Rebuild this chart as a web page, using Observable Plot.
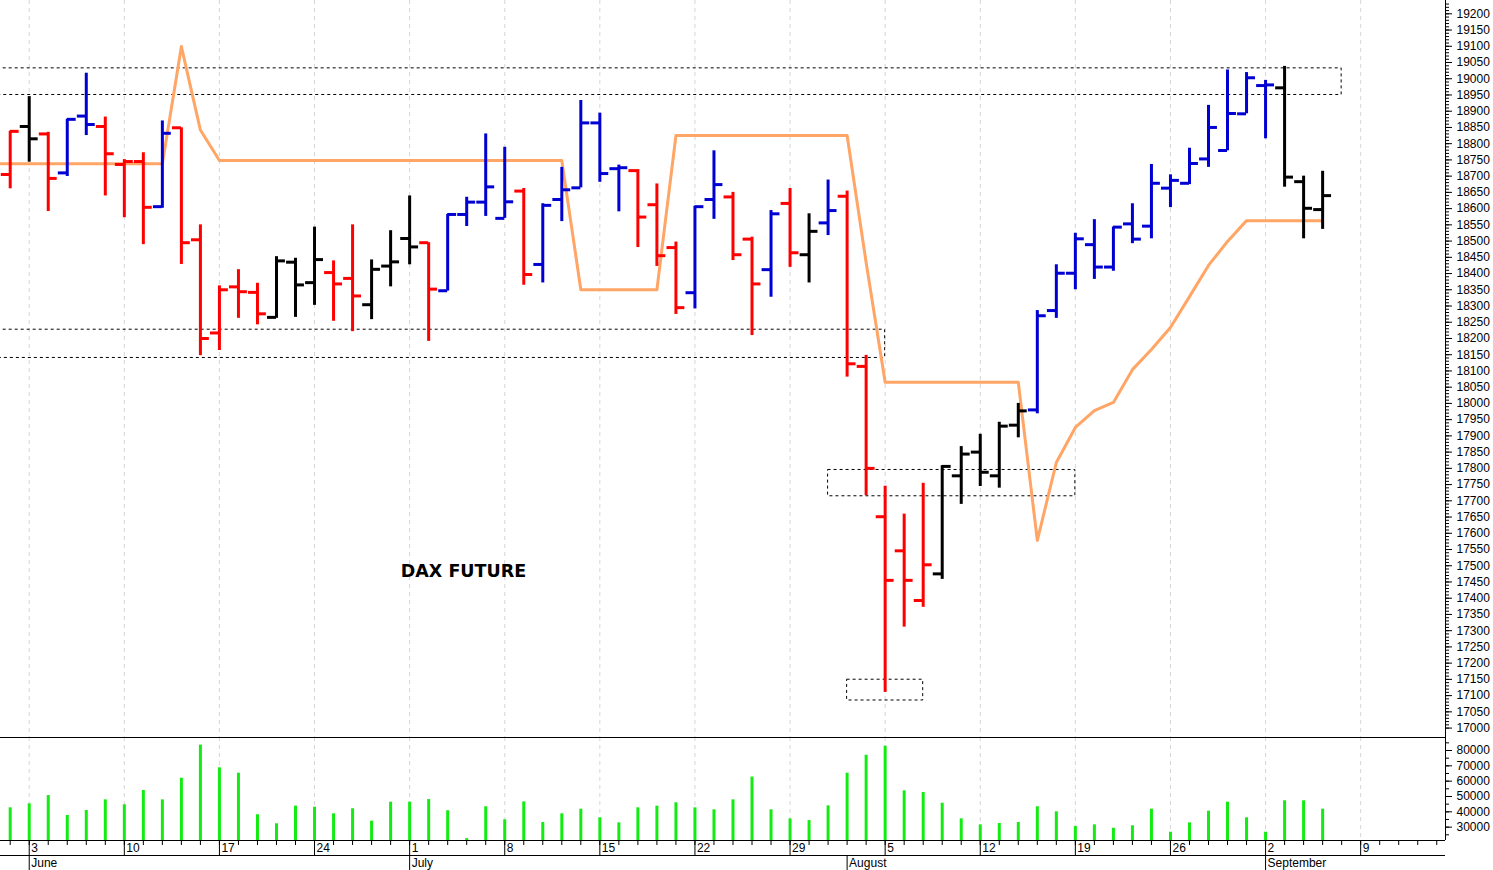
<!DOCTYPE html>
<html><head><meta charset="utf-8">
<script src="https://cdn.jsdelivr.net/npm/d3@7"></script>
<script src="https://cdn.jsdelivr.net/npm/@observablehq/plot@0.6"></script>
<style>
html,body{margin:0;padding:0;background:#fff;}
#chart{width:1493px;height:870px;position:relative;overflow:hidden;background:#fff;}
#chart svg{display:block;}
</style></head><body><div id="chart"></div>
<script>
// ---- DATA (trading-day index 0 = Fri 31 May 2024) ----
const opens  = [18705,18853,18830,18710,18885,18853,18736,18745,18606,18849,18504,18217,18359,18342,18265,18435,18372,18403,18385,18304,18423,18508,18495,18347,18582,18620,18570,18654,18428,18628,18664,18864,18723,18717,18612,18480,18341,18628,18636,18506,18412,18616,18458,18556,18638,18114,17651,17546,17393,17475,17777,17850,17777,17933,17980,18286,18401,18489,18420,18553,18546,18663,18678,18753,18779,18892,18979,18972,18683,18597];
const highs  = [18838,18945,18835,18875,19017,18882,18751,18772,18870,18849,18550,18362,18412,18370,18452,18447,18543,18439,18550,18442,18532,18639,18495,18582,18635,18830,18789,18662,18615,18727,18933,18894,18734,18720,18676,18497,18607,18778,18650,18512,18594,18662,18584,18688,18654,18148,17745,17659,17754,17808,17867,17905,17942,18000,18286,18427,18524,18566,18543,18615,18736,18704,18786,18918,19027,19019,18995,19038,18700,18715];
const lows   = [18661,18743,18591,18699,18825,18639,18572,18489,18601,18428,18147,18163,18262,18242,18262,18265,18302,18253,18221,18258,18359,18427,18191,18346,18545,18576,18570,18364,18371,18560,18664,18681,18590,18480,18422,18274,18291,18567,18440,18209,18327,18419,18371,18517,18081,17716,17110,17311,17372,17458,17689,17744,17739,17894,17968,18262,18350,18382,18407,18492,18507,18603,18674,18727,18778,18892,18815,18666,18507,18536];
const closes = [18838,18815,18693,18875,18859,18769,18745,18604,18832,18495,18200,18350,18344,18276,18439,18365,18443,18368,18331,18413,18436,18482,18352,18582,18620,18667,18621,18397,18610,18658,18864,18708,18726,18574,18455,18295,18606,18674,18458,18368,18584,18464,18530,18594,18122,17800,17455,17455,17503,17806,17844,17788,17930,17977,18270,18401,18507,18420,18543,18506,18678,18687,18739,18850,18893,19003,18981,18697,18601,18640];
// trend colour code of each bar: r = down, b = up, k = neutral
const trend  = ["r","k","r","b","b","r","r","r","b","r","r","r","r","r","k","k","k","r","r","k","k","k","r","b","b","b","b","r","b","b","b","b","b","r","r","r","b","b","r","r","b","r","k","b","r","r","r","r","r","k","k","k","k","k","b","b","b","b","b","b","b","b","b","b","b","b","b","k","k","k"];
const volumes = [42600,45200,50600,37600,40900,47800,44600,53900,47800,61900,83500,68700,65200,38100,32200,43700,43000,38700,42000,33900,46300,46300,48000,40700,22500,43300,34800,46500,33000,38700,41700,36100,32800,42600,43700,45900,42600,41300,47800,62700,41300,35400,34300,43900,65200,76900,82800,53700,52600,45600,35400,31500,32400,33000,43300,40000,30400,31500,29300,30900,41700,26700,32800,40400,46300,36100,26700,47200,47200,41700];
// trailing stop line (starts one day before the first bar)
const trailDays = d3.range(-1, 70);
const trailValues = [18738,18738,18738,18738,18738,18738,18738,18738,18738,18738,19099,18842,18748,18748,18748,18748,18748,18748,18748,18748,18748,18748,18748,18748,18748,18748,18748,18748,18748,18748,18748,18350,18350,18350,18350,18350,18825,18825,18825,18825,18825,18825,18825,18825,18825,18825,18434,18065,18065,18065,18065,18065,18065,18065,18065,17578,17818,17926,17978,18003,18104,18166,18234,18329,18425,18499,18563,18563,18563,18563,18563];
// dashed annotation boxes
const zoneFrom = [-1, -1, 43, 44];
const zoneTo   = [70, 46, 56, 48];
const zoneLow  = [18950, 18140, 17714, 17085];
const zoneHigh = [19032, 18227, 17795, 17149];
// axis ticks / labels
const weekStarts = [1,6,11,16,21,26,31,36,41,46,51,56,61,66,71];
const weekLabels = ["3","10","17","24","1","8","15","22","29","5","12","19","26","2","9"];
const monthStarts = [1,21,44,66];
const monthLabels = ["June","July","August","September"];
const priceTicks = d3.range(17000, 19201, 50);
const priceMinor = d3.range(17000, 19231, 10);
const volTicks = d3.range(30000, 80001, 10000);
const volMinor = d3.range(25000, 85001, 5000);
const titleText = ["DAX FUTURE"];
const titleAt = [{i: 23.83, p: 17482}];

// ---- derived tables ----
const colors = {r: "#ff0000", b: "#0000d2", k: "#000000"};
const bars = opens.map((o, i) => ({i, o, h: highs[i], l: lows[i], c: closes[i], col: colors[trend[i]]}));
const trail = trailDays.map((i, k) => ({i, v: trailValues[k]}));
const zones = zoneFrom.map((x1, k) => ({x1, x2: zoneTo[k], y1: zoneLow[k], y2: zoneHigh[k]}));
const vols = volumes.map((v, i) => ({i, v}));
const weeks = weekStarts.map((i, k) => ({i, label: weekLabels[k]}));
const months = monthStarts.map((i, k) => ({i, label: monthLabels[k]}));

const W = 1493, MR = 48;
const xDomain = [-0.51, 75.46];
const yDomain = [16971, 19241];
const vDomain = [21290, 88480];
const tickLen = 0.47;
const font = "'Liberation Sans', Arial, sans-serif";
const gridStyle = {stroke: "#d6d6d6", strokeDasharray: "4,4", strokeWidth: 1};
const fmt = d3.format("d");

const main = Plot.plot({
  width: W, height: 737,
  marginLeft: 0, marginRight: MR, marginTop: 0, marginBottom: 0,
  style: {fontFamily: font, fontSize: "12px", background: "#fff", color: "#000"},
  x: {domain: xDomain, axis: null},
  y: {domain: yDomain},
  marks: [
    Plot.ruleX(weekStarts, {x: d => d, ...gridStyle}),
    Plot.rect(zones, {x1: "x1", x2: "x2", y1: "y1", y2: "y2", fill: "none", stroke: "#000", strokeWidth: 1, strokeDasharray: "3,3"}),
    Plot.line(trail, {x: "i", y: "v", stroke: "#ffa566", strokeWidth: 3}),
    Plot.ruleX(bars, {x: "i", y1: "l", y2: "h", stroke: "col", strokeWidth: 3}),
    Plot.ruleY(bars, {y: "o", x1: d => d.i - tickLen, x2: "i", stroke: "col", strokeWidth: 3}),
    Plot.ruleY(bars, {y: "c", x1: "i", x2: d => d.i + tickLen, stroke: "col", strokeWidth: 3}),
    Plot.text(titleAt, {x: "i", y: "p", text: () => titleText[0], fontFamily: "'DejaVu Sans', Verdana, sans-serif", fontWeight: "bold", fontSize: 17.5, fill: "#000"}),
    Plot.ruleX([xDomain[1]], {stroke: "#000", strokeWidth: 1}),
    Plot.axisY(priceMinor, {anchor: "right", label: null, tickSize: 3, tickFormat: () => "", stroke: "#000"}),
    Plot.axisY(priceTicks, {anchor: "right", label: null, tickSize: 6, tickPadding: 5, tickFormat: fmt, fill: "#000", stroke: "#000"})
  ]
});

const vol = Plot.plot({
  width: W, height: 118,
  marginLeft: 0, marginRight: MR, marginTop: 0, marginBottom: 15,
  style: {fontFamily: font, fontSize: "12px", background: "#fff", color: "#000"},
  x: {domain: xDomain},
  y: {domain: vDomain},
  marks: [
    Plot.ruleX(weekStarts, {x: d => d, ...gridStyle}),
    Plot.ruleY([vDomain[1]], {stroke: "#000", strokeWidth: 1}),
    Plot.ruleY([vDomain[0]], {stroke: "#000", strokeWidth: 1}),
    Plot.ruleX(vols, {x: "i", y1: vDomain[0], y2: "v", stroke: "#12ec12", strokeWidth: 3}),
    Plot.ruleX([xDomain[1]], {stroke: "#000", strokeWidth: 1}),
    Plot.axisY(volMinor, {anchor: "right", label: null, tickSize: 3, tickFormat: () => "", stroke: "#000"}),
    Plot.axisY(volTicks, {anchor: "right", label: null, tickSize: 6, tickPadding: 5, tickFormat: fmt, fill: "#000", stroke: "#000"}),
    Plot.axisX(d3.range(0, 76), {anchor: "bottom", label: null, tickSize: 5, tickFormat: () => "", stroke: "#000"}),
    Plot.axisX(weekStarts, {anchor: "bottom", label: null, tickSize: 15, tickFormat: () => "", stroke: "#000"}),
    Plot.text(weeks, {x: "i", text: "label", frameAnchor: "bottom", lineAnchor: "top", textAnchor: "start", dx: 2, dy: 3, fill: "#000"})
  ]
});

const mon = Plot.plot({
  width: W, height: 15,
  marginLeft: 0, marginRight: MR, marginTop: 0, marginBottom: 0,
  style: {fontFamily: font, fontSize: "12px", background: "#fff", color: "#000"},
  x: {domain: xDomain, axis: null},
  y: {domain: [0, 1], range: [0, 15], axis: null},
  marks: [
    Plot.ruleY([0], {x1: xDomain[0], x2: xDomain[1], stroke: "#000", strokeWidth: 1}),
    Plot.ruleX(months, {x: "i", y1: 0, y2: 1, stroke: "#000", strokeWidth: 1}),
    Plot.text(months, {x: "i", y: 0.5, text: "label", textAnchor: "start", dx: 2, dy: 0, fill: "#000"})
  ]
});

const root = document.getElementById("chart");
root.append(main, vol, mon);
</script>
</body></html>
